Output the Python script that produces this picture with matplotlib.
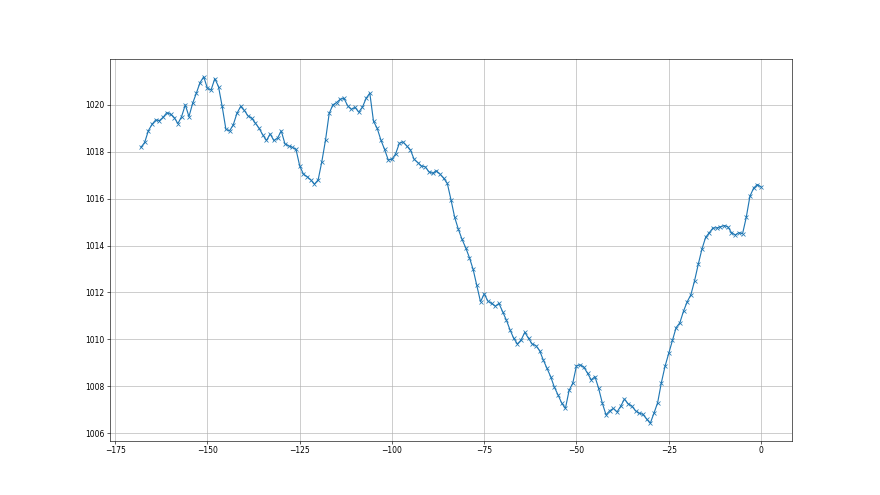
import numpy as np
import matplotlib
matplotlib.use("Agg")
import matplotlib.pyplot as plt

# hours relative to now, hourly pressure readings (hPa)
hours = list(range(-168, 1))
pressure = [
    1018.19, 1018.40, 1018.90, 1019.17, 1019.36, 1019.33, 1019.47, 1019.67, 1019.60, 1019.46,
    1019.20, 1019.50, 1020.00, 1019.50, 1020.07, 1020.50, 1020.95, 1021.20, 1020.70, 1020.64,
    1021.12, 1020.78, 1019.93, 1018.96, 1018.89, 1019.15, 1019.64, 1019.93, 1019.76, 1019.53,
    1019.43, 1019.22, 1019.00, 1018.72, 1018.48, 1018.76, 1018.48, 1018.58, 1018.89, 1018.34,
    1018.25, 1018.19, 1018.10, 1017.40, 1017.05, 1016.94, 1016.80, 1016.62, 1016.80, 1017.58,
    1018.50, 1019.64, 1020.00, 1020.10, 1020.24, 1020.28, 1019.96, 1019.81, 1019.89, 1019.69,
    1019.90, 1020.28, 1020.50, 1019.30, 1019.00, 1018.50, 1018.10, 1017.65, 1017.68, 1017.91,
    1018.36, 1018.42, 1018.25, 1018.08, 1017.68, 1017.54, 1017.39, 1017.36, 1017.15, 1017.08,
    1017.19, 1017.05, 1016.87, 1016.65, 1015.95, 1015.20, 1014.69, 1014.26, 1013.90, 1013.48,
    1012.98, 1012.30, 1011.60, 1011.94, 1011.63, 1011.53, 1011.41, 1011.53, 1011.18, 1010.82,
    1010.40, 1010.04, 1009.80, 1009.97, 1010.30, 1010.04, 1009.80, 1009.73, 1009.52, 1009.12,
    1008.77, 1008.41, 1007.96, 1007.63, 1007.28, 1007.05, 1007.82, 1008.13, 1008.87, 1008.91,
    1008.81, 1008.55, 1008.27, 1008.41, 1007.91, 1007.28, 1006.78, 1006.95, 1007.05, 1006.90,
    1007.15, 1007.45, 1007.25, 1007.15, 1006.95, 1006.85, 1006.80, 1006.60, 1006.42, 1006.85,
    1007.30, 1008.15, 1008.85, 1009.40, 1009.95, 1010.50, 1010.70, 1011.20, 1011.60, 1011.90,
    1012.50, 1013.20, 1013.85, 1014.35, 1014.55, 1014.75, 1014.75, 1014.80, 1014.85, 1014.80,
    1014.55, 1014.45, 1014.55, 1014.50, 1015.20, 1016.10, 1016.45, 1016.60, 1016.50,
]

fig, ax = plt.subplots(figsize=(16, 9), dpi=55)
ax.plot(hours, pressure, marker='x')
ax.grid(True)
ax.ticklabel_format(useOffset=False, axis='y')

fig.savefig("out.png", dpi=55)
